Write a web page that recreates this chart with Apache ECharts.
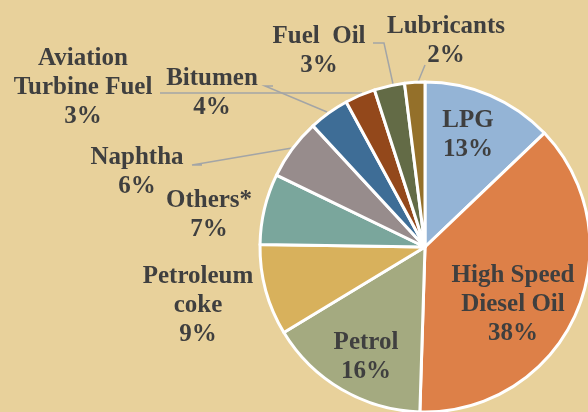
<!DOCTYPE html>
<html>
<head>
<meta charset="utf-8">
<script src="https://cdn.jsdelivr.net/npm/echarts@6/dist/echarts.min.js"></script>
<style>
* { margin: 0; padding: 0; }
html, body { background: #E8D19B; }
#chart-container { width: 588px; height: 412px; }
</style>
</head>
<body>
<div id="chart-container"></div>
<script>
// product names and their share of consumption (%)
const products = ['LPG', 'High Speed\nDiesel Oil', 'Petrol', 'Petroleum\ncoke', 'Others*',
    'Naphtha', 'Bitumen', 'Aviation\nTurbine Fuel', 'Fuel  Oil', 'Lubricants'];
const shares = [13, 38, 16, 9, 7, 6, 4, 3, 3, 2];

const sliceColors = ['#94B4D6', '#DD8048', '#A4AA80', '#D8B15C', '#7AA69C',
    '#978C8C', '#3E6D96', '#93481B', '#636B46', '#94702A'];

// where each label block sits (centre) and which ones get a leader line
const labelSpots = [
    [468, 135], [513, 305], [366, 357], [198, 306], [209, 215],
    [137, 172], [212, 93], [83, 88], [319, 51], [446, 41]
];
const leaders = {
    5: [[202, 165], [192, 165], [292, 148]],
    6: [[273, 86], [265, 86], [327, 112]],
    7: [[160, 93], [165, 93], [362, 93]],
    8: [[373, 43], [384, 43], [393, 84]],
    9: [[425, 65], [425, 65], [418, 82]]
};

const dom = document.getElementById('chart-container');
const myChart = echarts.init(dom, null, { renderer: 'canvas' });

const pieData = products.map((name, i) => ({
    name: name,
    value: shares[i],
    itemStyle: { color: sliceColors[i] },
    labelLine: { show: !!leaders[i] }
}));

const option = {
    backgroundColor: '#E8D19B',
    animation: false,
    series: [
        {
            type: 'pie',
            center: [425, 247],
            radius: 165,
            startAngle: 90,
            clockwise: true,
            avoidLabelOverlap: false,
            data: pieData,
            itemStyle: {
                borderColor: '#ffffff',
                borderWidth: 3
            },
            label: {
                show: true,
                position: 'outside',
                formatter: '{b}\n{c}%',
                fontFamily: '"Liberation Serif", serif',
                fontWeight: 'bold',
                fontSize: 25,
                lineHeight: 29,
                color: '#3F3F3F',
                align: 'center'
            },
            labelLine: {
                lineStyle: { color: '#A3A5A6', width: 1.5 }
            },
            labelLayout: function (params) {
                const i = params.dataIndex;
                const out = {
                    x: labelSpots[i][0],
                    y: labelSpots[i][1],
                    align: 'center',
                    verticalAlign: 'middle'
                };
                if (leaders[i]) {
                    out.labelLinePoints = leaders[i];
                }
                return out;
            }
        }
    ]
};

myChart.setOption(option);
window.addEventListener('resize', () => {
    myChart.resize();
});
</script>
</body>
</html>
